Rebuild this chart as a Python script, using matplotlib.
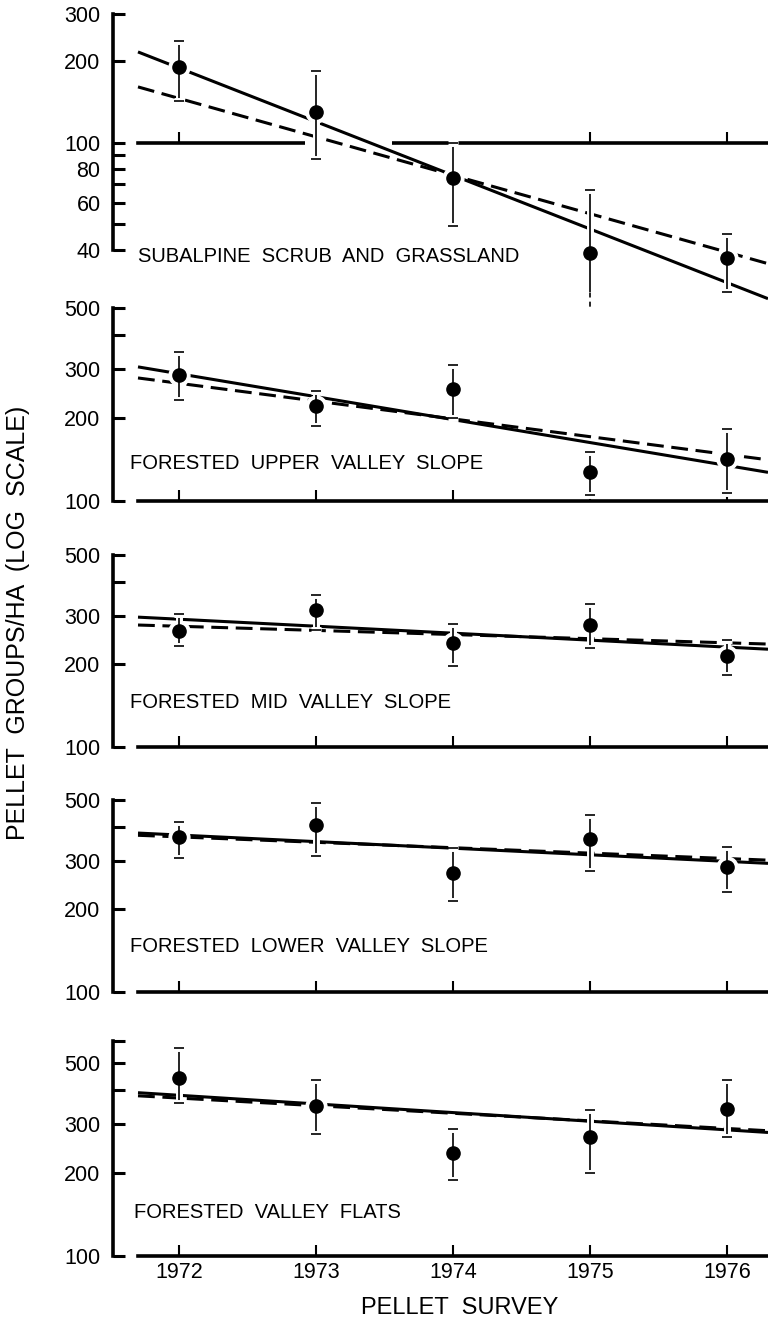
import matplotlib
matplotlib.use("Agg")
import matplotlib.pyplot as plt
import matplotlib.patheffects as pe

plt.rcParams['font.family'] = ['Liberation Sans', 'DejaVu Sans']

# survey years and the x range covered by the fitted lines
years = [1972, 1973, 1974, 1975, 1976]
fit_years = [1971.7, 1976.3]

# panel titles
habitats = ["SUBALPINE  SCRUB  AND  GRASSLAND",
            "FORESTED  UPPER  VALLEY  SLOPE",
            "FORESTED  MID  VALLEY  SLOPE",
            "FORESTED  LOWER  VALLEY  SLOPE",
            "FORESTED  VALLEY  FLATS"]

# pellet groups/ha: mean, upper and lower error limits, fitted lines (ends)
sub_mean = [190, 130, 74, 39, 37.5]
sub_hi = [239, 185, 100, 67, 46]
sub_lo = [143, 87, 49, 28, 28]
sub_solid = [217, 26.4]
sub_dash = [161, 35.6]
sub_open_low = [28, 21]          # 1975 lower limit runs off the scale

upper_mean = [286, 221, 255, 127, 142]
upper_hi = [347, 250, 311, 150, 182]
upper_lo = [232, 187, 200, 105, 107]
upper_solid = [306, 127]
upper_dash = [279, 141]

mid_mean = [264, 315, 239, 278, 214]
mid_hi = [304, 357, 280, 331, 245]
mid_lo = [233, 266, 197, 229, 183]
mid_solid = [297, 227]
mid_dash = [278, 237]

lower_mean = [366, 405, 271, 360, 285]
lower_hi = [415, 487, 334, 440, 337]
lower_lo = [307, 312, 214, 275, 231]
lower_solid = [379, 294]
lower_dash = [372, 302]

flats_mean = [442, 350, 235, 269, 341]
flats_hi = [566, 434, 287, 339, 434]
flats_lo = [359, 277, 189, 199, 269]
flats_solid = [390, 280]
flats_dash = [380, 284]

means = [sub_mean, upper_mean, mid_mean, lower_mean, flats_mean]
highs = [sub_hi, upper_hi, mid_hi, lower_hi, flats_hi]
lows = [sub_lo, upper_lo, mid_lo, lower_lo, flats_lo]
solids = [sub_solid, upper_solid, mid_solid, lower_solid, flats_solid]
dashes = [sub_dash, upper_dash, mid_dash, lower_dash, flats_dash]

# axis setup per panel
ylims = [(40, 300), (100, 500), (100, 500), (100, 500), (100, 600)]
yticks = [[40, 50, 60, 70, 80, 90, 100, 200, 300],
          [100, 200, 300, 400, 500],
          [100, 200, 300, 400, 500],
          [100, 200, 300, 400, 500],
          [100, 200, 300, 400, 500, 600]]
ylabels = [["40", "", "60", "", "80", "", "100", "200", "300"],
           ["100", "200", "300", "", "500"],
           ["100", "200", "300", "", "500"],
           ["100", "200", "300", "", "500"],
           ["100", "200", "300", "", "500", ""]]

# layout in pixels (top, bottom) of each panel, and title positions
W, H = 768, 1322
panel_px = [(14, 250), (308, 501), (555, 747), (800, 992), (1041, 1256)]
title_px = [(138, 262), (130, 469), (130, 708), (130, 952), (134, 1218)]

fig = plt.figure(figsize=(W / 100, H / 100), dpi=100)

halo = [pe.withStroke(linewidth=5, foreground='white')]

for i in range(5):
    top, bot = panel_px[i]
    ax = fig.add_axes([138 / W, 1 - bot / H, 630 / W, (bot - top) / H])
    ax.set_yscale('log')
    ax.set_xlim(1971.7, 1976.3)
    ax.set_ylim(*ylims[i])

    ax.spines['top'].set_visible(False)
    ax.spines['right'].set_visible(False)
    ax.spines['left'].set_position(('outward', 18))
    for s in ['left', 'bottom']:
        ax.spines[s].set_linewidth(2.6)
    if i == 0:
        ax.spines['bottom'].set_position(('data', 100))

    ax.yaxis.set_minor_locator(matplotlib.ticker.NullLocator())
    ax.set_yticks(yticks[i])
    ax.set_yticklabels(ylabels[i])
    ax.tick_params(axis='y', direction='in', length=8.5, width=2.2,
                   labelsize=15.5, pad=9)
    if i == 0:
        ax.set_xticks([1972, 1975, 1976])
    else:
        ax.set_xticks(years)
    ax.tick_params(axis='x', direction='in', length=8, width=1.5,
                   labelsize=15.5, pad=4, labelbottom=(i == 4))

    # fitted regressions
    ax.plot(fit_years, solids[i], color='black', lw=2.2, zorder=3,
            clip_on=False, solid_capstyle='butt')
    ax.plot(fit_years, dashes[i], color='black', lw=2.2, ls=(0, (5.5, 2.5)),
            zorder=3, clip_on=False)

    m, hi, lo = means[i], highs[i], lows[i]
    # white halo behind points
    ax.plot(years, m, 'o', ms=15, color='white', zorder=3.5, clip_on=False)

    idx = [k for k in range(5) if not (i == 0 and years[k] == 1975)]
    xs = [years[k] for k in idx]
    ys = [m[k] for k in idx]
    err = [[m[k] - lo[k] for k in idx], [hi[k] - m[k] for k in idx]]
    eb = ax.errorbar(xs, ys, yerr=err, fmt='none', ecolor='black',
                     elinewidth=1.2, capsize=3.5, capthick=1.2, zorder=4)
    for art in list(eb[1]) + list(eb[2]):
        art.set_path_effects(halo)
        art.set_clip_on(False)

    if i == 0:
        k = years.index(1975)
        eb2 = ax.errorbar([1975], [m[k]], yerr=[[0], [hi[k] - m[k]]],
                          fmt='none', ecolor='black', elinewidth=1.2,
                          capsize=3.5, capthick=1.2, zorder=4)
        for art in list(eb2[1]) + list(eb2[2]):
            art.set_path_effects(halo)
            art.set_clip_on(False)
        ax.vlines(1975, sub_open_low[0], m[k], color='black', lw=1.2,
                  zorder=4, clip_on=False)
        ax.vlines(1975, sub_open_low[1], sub_open_low[0], color='black',
                  lw=1.2, linestyles=(0, (3, 2.5)), zorder=4, clip_on=False)
        # break in the 100 line where the fitted lines cross it
        ax.hlines(100, 1972.92, 1973.555, color='white', lw=4.5, zorder=2.6)

    ax.plot(years, m, 'o', ms=9.5, color='black', zorder=5, clip_on=False)

    tx, ty = title_px[i]
    fig.text(tx / W, 1 - ty / H, habitats[i], ha='left', va='baseline',
             fontsize=14.5)

fig.text(460 / W, 1 - 1308 / H, "PELLET  SURVEY", ha='center', va='center',
         fontsize=17)
fig.text(18 / W, 1 - 623 / H, "PELLET  GROUPS/HA  (LOG  SCALE)",
         rotation=90, ha='center', va='center', fontsize=18)

plt.savefig("out.png", dpi=100)
